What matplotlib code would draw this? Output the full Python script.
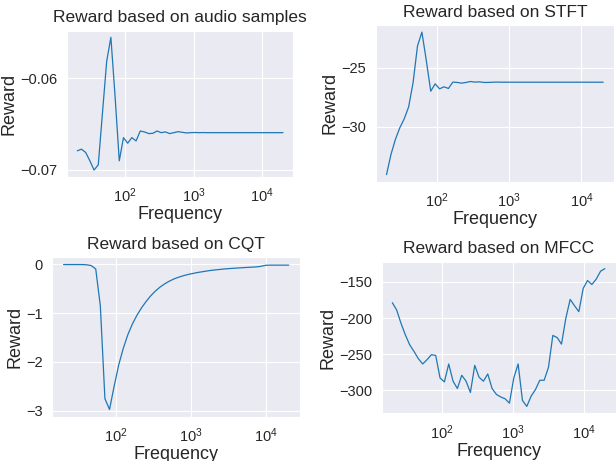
import numpy as np
import matplotlib
matplotlib.use("Agg")
import matplotlib.pyplot as plt
import seaborn as sns

# frequencies: 50 log-spaced points, 20 Hz .. 20 kHz
freqs = np.logspace(np.log10(20), np.log10(20000), 50)

reward_audio = [-0.06794, -0.06776, -0.06812, -0.06903, -0.07004, -0.06946, -0.06379, -0.05819,
                -0.05556, -0.06199, -0.06903, -0.06650, -0.06711, -0.06650, -0.06686, -0.06578,
                -0.06588, -0.06606, -0.06603, -0.06578, -0.06596, -0.06588, -0.06606, -0.06596,
                -0.06585, -0.06592, -0.06599, -0.06596, -0.06594, -0.06596, -0.06595, -0.06596,
                -0.06596, -0.06596, -0.06596, -0.06596, -0.06596, -0.06596, -0.06596, -0.06596,
                -0.06596, -0.06596, -0.06596, -0.06596, -0.06596, -0.06596, -0.06596, -0.06596,
                -0.06596, -0.06596]

reward_stft = [-34.04, -32.34, -31.07, -30.08, -29.32, -28.31, -26.27, -23.16, -21.98, -24.4,
               -26.98, -26.36, -26.78, -26.61, -26.75, -26.21, -26.24, -26.30, -26.24, -26.16,
               -26.21, -26.19, -26.24, -26.24, -26.22, -26.21, -26.22, -26.22, -26.22, -26.22,
               -26.22, -26.22, -26.22, -26.22, -26.22, -26.22, -26.22, -26.22, -26.22, -26.22,
               -26.22, -26.22, -26.22, -26.22, -26.22, -26.22, -26.22, -26.22, -26.22, -26.22]

reward_cqt = [-0.01, -0.01, -0.01, -0.01, -0.01, -0.015, -0.03, -0.10, -0.85, -2.75,
              -2.97, -2.50, -2.06, -1.72, -1.44, -1.22, -1.04, -0.89, -0.76, -0.645,
              -0.55, -0.47, -0.405, -0.35, -0.305, -0.27, -0.24, -0.215, -0.195, -0.175,
              -0.16, -0.145, -0.13, -0.12, -0.11, -0.10, -0.093, -0.086, -0.08, -0.074,
              -0.068, -0.063, -0.058, -0.045, -0.025, -0.022, -0.022, -0.022, -0.022, -0.022]

reward_mfcc = [-178.8, -188.9, -207.2, -223.2, -236.9, -246.1, -256.1, -263.4, -257.5, -250.6,
               -251.6, -282.7, -288.2, -263.4, -287.2, -297.3, -279.0, -287.2, -302.8, -265.3,
               -281.7, -287.2, -277.2, -297.3, -305.5, -309.0, -311.5, -317.5, -282.7, -263.4,
               -313.8, -322.0, -307.8, -298.7, -285.9, -285.9, -268.0, -224.0, -226.9, -236.0,
               -200.3, -174.2, -183.0, -191.2, -159.1, -148.2, -153.7, -146.3, -135.4, -131.7]

titles = ["Reward based on audio samples", "Reward based on STFT",
          "Reward based on CQT", "Reward based on MFCC"]

sns.set_style("darkgrid")
plt.rcParams['font.family'] = ['Liberation Sans', 'DejaVu Sans']

W, H = 616, 461
# axes boxes in pixels: left, top, right, bottom
boxes = [(67, 30.7, 293.3, 176.7),
         (375.7, 25, 614, 181.7),
         (52.3, 257.3, 300, 416.7),
         (381.7, 261.7, 615.5, 413.3)]

fig = plt.figure(figsize=(W / 100, H / 100), dpi=100)
axes = []
for (l, t, r, b), data, title in zip(boxes, [reward_audio, reward_stft, reward_cqt, reward_mfcc], titles):
    ax = fig.add_axes([l / W, 1 - b / H, (r - l) / W, (b - t) / H])
    ax.plot(freqs, data, color="#1f77b4", linewidth=0.9)
    ax.set_xscale("log")
    ax.set_title(title, fontsize=12.5)
    ax.set_xlabel("Frequency", fontsize=13, labelpad=1)
    ax.set_ylabel("Reward", fontsize=13, labelpad=2)
    ax.tick_params(labelsize=10.5)
    axes.append(ax)

axes[0].set_yticks([-0.07, -0.06])
axes[1].set_yticks([-30, -25])
axes[3].set_yticks([-300, -250, -200, -150])

fig.savefig("out.png")
